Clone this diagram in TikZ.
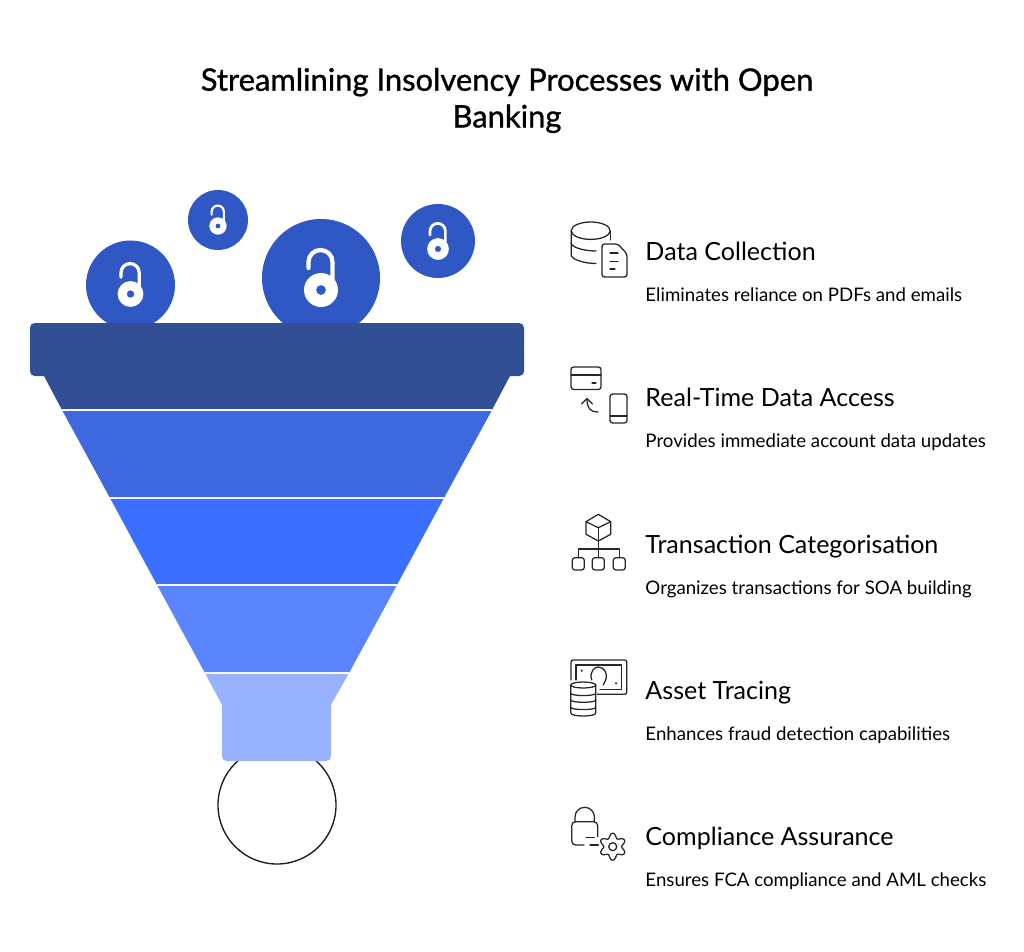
\documentclass[tikz,border=0pt]{standalone}
\usepackage{fontspec}
\setmainfont{Lato}
\newfontfamily\titlefont[FakeBold=1]{Lato}
\definecolor{banddark}{HTML}{324F96}
\definecolor{bandtwo}{HTML}{3D68DF}
\definecolor{bandthree}{HTML}{3A6FFF}
\definecolor{bandfour}{HTML}{5A85FF}
\definecolor{bandneck}{HTML}{99B2FF}
\definecolor{ballblue}{HTML}{3058C4}
\tikzset{
  titletext/.style={font=\titlefont\fontsize{23.2}{27.5}\selectfont, align=center},
  headtext/.style={anchor=base west, inner sep=0pt, xshift=-0.6pt, yshift=-1.2pt, font=\fontsize{18.8}{23}\selectfont},
  desctext/.style={anchor=base west, inner sep=0pt, xshift=-0.6pt, yshift=-1.2pt, font=\fontsize{14}{16}\selectfont},
  icon/.style={draw=black!85, line width=0.95pt, line cap=round, line join=round},
  sepline/.style={draw=white!90!bandneck, line width=1.3pt}
}
% open padlock in a ball: centre x, centre y, scale
\newcommand{\openlock}[3]{
  \draw[white, line width=#3*3.2pt, line cap=round]
    (#1+11.5*#3,#2-8*#3) -- (#1+11.5*#3,#2-28*#3)
    arc (0:-180:12*#3) -- (#1-12.5*#3,#2-22*#3);
  \fill[white, even odd rule] (#1,#2) circle (17*#3) (#1,#2) circle (5*#3);
}
\begin{document}
\begin{tikzpicture}[x=0.75pt, y=-0.75pt]
    \useasboundingbox (0,0) rectangle (1024,952);

    % title
    \node[titletext] (title) at (507,100.5) {Streamlining Insolvency Processes with Open\\Banking};

    % balls, cut off by the lip
    \begin{scope}
        \clip (0,0) rectangle (1024,322);
        \fill[ballblue] (130.5,285) circle (44.5);
        \fill[ballblue] (218,220) circle (30);
        \fill[ballblue] (321,278) circle (59);
        \fill[ballblue] (438,241) circle (37);
    \end{scope}
    \openlock{130.5}{294}{0.76}
    \openlock{218}{226}{0.51}
    \openlock{321}{290}{1}
    \openlock{438}{249}{0.64}

    % bottom circle
    \draw[black!90, line width=1pt] (277,805) circle (59);

    % funnel
    \fill[banddark] (44,376) -- (510,376) -- (492,410) -- (62,410) -- cycle;
    \fill[banddark, rounded corners=3.5pt] (30,323) rectangle (524,376);
    \fill[bandtwo] (62,410) -- (492,410) -- (444,498) -- (110,498) -- cycle;
    \fill[bandthree] (110,498) -- (444,498) -- (397,585) -- (157,585) -- cycle;
    \fill[bandfour] (157,585) -- (397,585) -- (349,673) -- (205,673) -- cycle;
    \fill[bandneck] (205,673) -- (349,673) -- (331,705) -- (331,720) -- (222,720) -- (222,705) -- cycle;
    \fill[bandneck, rounded corners=3.5pt] (222,715) rectangle (331,761);
    \draw[sepline] (62,410) -- (492,410);
    \draw[sepline] (110,498) -- (444,498);
    \draw[sepline] (157,585) -- (397,585);
    \draw[sepline] (205,673) -- (349,673);

    % texts on the right
    \node[headtext] (collect) at (646,259) {Data Collection};
    \node[desctext] (collectdesc) at (646,300) {Eliminates reliance on PDFs and emails};
    \node[headtext] (access) at (646,405.25) {Real-Time Data Access};
    \node[desctext] (accessdesc) at (646,446.25) {Provides immediate account data updates};
    \node[headtext] (categ) at (646,551.5) {Transaction Categorisation};
    \node[desctext] (categdesc) at (646,592.5) {Organizes transactions for SOA building};
    \node[headtext] (trace) at (646,697.75) {Asset Tracing};
    \node[desctext] (tracedesc) at (646,738.75) {Enhances fraud detection capabilities};
    \node[headtext] (comply) at (646,844) {Compliance Assurance};
    \node[desctext] (complydesc) at (646,885) {Ensures FCA compliance and AML checks};

    % icon: database and sheet
    \draw[icon] (590.7,230.7) ellipse (19.5 and 8.7);
    \draw[icon] (571.2,230.7) -- (571.2,255) .. controls (571.2,259) and (583,263.5) .. (596,263.5);
    \draw[icon] (571.2,243) .. controls (571.2,247) and (583,251) .. (596,251);
    \draw[icon] (610.2,230.7) -- (610.2,240);
    \draw[icon, rounded corners=2pt] (602,246) -- (602,277) -- (627,277) -- (627,254) -- (618,244) -- (602,244) -- (602,250);
    \draw[icon] (610,253) -- (618,253);
    \draw[icon] (610,261.5) -- (618,261.5);
    \draw[icon] (610,269) -- (615,269);

    % icon: card and phone
    \draw[icon, rounded corners=2pt] (571,367) rectangle (601,389.5);
    \draw[icon] (571,375) -- (601,375);
    \draw[icon] (592,383) -- (596,383);
    \draw[icon] (598,412) .. controls (590,412) and (587,408) .. (587,399);
    \draw[icon] (581.5,404) -- (587,398.5) -- (592.5,404);
    \draw[icon, rounded corners=2pt] (610,394) rectangle (627,423);
    \draw[icon] (610,416) -- (627,416);

    % icon: cube and tree
    \draw[icon] (598.3,514.3) -- (610.7,521.7) -- (610.7,534.3) -- (598.3,541) -- (586,534.3) -- (586,521.7) -- cycle;
    \draw[icon] (586,521.7) -- (598.3,527.7) -- (610.7,521.7);
    \draw[icon] (598.3,527.7) -- (598.3,557.7);
    \draw[icon] (578.3,557.7) -- (578.3,549) -- (619.3,549) -- (619.3,557.7);
    \foreach \boxx in {572.3,592.3,613.3}
        \draw[icon, rounded corners=2pt] (\boxx,557.7) rectangle ++(12,12.3);

    % icon: banknote and database
    \draw[icon, rounded corners=1.5pt] (571,680) -- (571,660) -- (626.7,660) -- (626.7,694.3) -- (597.3,694.3);
    \draw[icon] (576,680) -- (576,665) -- (621.7,665) -- (621.7,689.3) -- (600,689.3);
    \fill[black!85] (581.7,670.7) circle (1.2) (616,683.3) circle (1.2);
    \draw[icon] (591.7,680) .. controls (589,671) and (595,667) .. (598.3,667) .. controls (604,667) and (608,673) .. (605.7,680) -- (603.3,685);
    \draw[icon] (583.3,685) ellipse (12.5 and 3);
    \draw[icon] (570.8,685) -- (570.8,713) .. controls (570.8,717) and (595.8,717) .. (595.8,713) -- (595.8,685);
    \foreach \bandy in {693.3,700,707.3}
        \draw[icon] (570.8,\bandy) .. controls (570.8,\bandy+3) and (595.8,\bandy+3) .. (595.8,\bandy);

    % icon: padlock and gear
    \draw[icon] (575,821.7) -- (575,817) arc (-180:0:9.7) -- (594.3,821.7);
    \draw[icon, rounded corners=3pt] (597.7,836.7) -- (597.7,821.7) -- (571.7,821.7) -- (571.7,845) -- (584,845);
    \draw[icon] (586,837.3) -- (594.3,837.3);
    \draw[icon] (590,845) -- (598.3,845);
    \draw[icon, domain=0:360, samples=120, smooth] plot ({612.7+(11.2-2.3*cos(6*\x))*cos(\x)}, {846.7+(11.2-2.3*cos(6*\x))*sin(\x)});
    \draw[icon] (612.7,846.7) circle (4);

\end{tikzpicture}
\end{document}
